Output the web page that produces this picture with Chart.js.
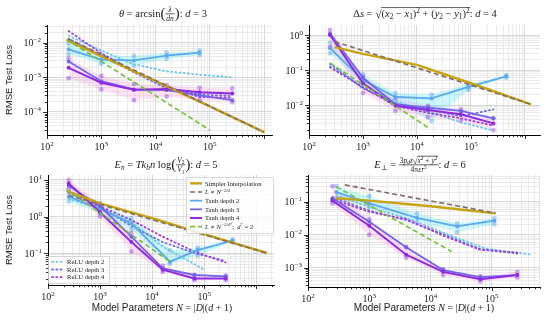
<!DOCTYPE html>
<html>
<head>
<meta charset="utf-8">
<script src="https://cdn.jsdelivr.net/npm/chart.js@4.4.0/dist/chart.umd.min.js"></script>
<style>
  html, body { margin: 0; padding: 0; background: #fff; }
  #wrap { position: relative; width: 550px; height: 321px; overflow: hidden; }
  #wrap canvas { position: absolute; left: 0; top: 0; }
</style>
</head>
<body>
<div id="wrap">
  <canvas id="c1" width="550" height="321"></canvas>
  <canvas id="c2" width="550" height="321"></canvas>
  <canvas id="c3" width="550" height="321"></canvas>
  <canvas id="c4" width="550" height="321"></canvas>
</div>
<script>
// ---- data (N = model parameters, L = RMSE test loss) ----

// panel 1: theta = arcsin(lambda / dn), d = 3
const p1InterpN = [230, 1000, 10000, 100000, 1000000];
const p1InterpL = [1.2e-2, 4.1e-3, 7.8e-4, 1.45e-4, 2.6e-5];
const p1ScaleN = [240, 1000000];
const p1ScaleL = [1.35e-2, 2.6e-5];
const p1StarN = [230, 100000];
const p1StarL = [1.25e-2, 3.0e-5];
const p1NetN = [250, 1000, 4000, 16000, 65000, 260000];
const p1Tanh2N = [250, 1000, 4000, 16000, 65000];
const p1Tanh2 = [6.5e-3, 3.3e-3, 3.1e-3, 4.3e-3, 5.2e-3];
const p1Tanh2Lo = [4.8e-3, 2.5e-3, 2.2e-3, 3.4e-3, 4.4e-3];
const p1Tanh2Hi = [9.5e-3, 4.4e-3, 4.2e-3, 5.2e-3, 6.0e-3];
const p1Tanh3 = [2.9e-3, 7.8e-4, 4.5e-4, 4.3e-4, 3.0e-4, 2.2e-4];
const p1Tanh4 = [1.9e-3, 7.0e-4, 4.4e-4, 4.6e-4, 3.7e-4, 3.4e-4];
const p1Tanh4Lo = [9.5e-4, 4.5e-4, 2.2e-4, 2.8e-4, 2.2e-4, 1.9e-4];
const p1Tanh4Hi = [3.6e-3, 1.1e-3, 6.5e-4, 6.0e-4, 5.0e-4, 4.8e-4];
const p1Relu2 = [1.6e-2, 6.0e-3, 2.4e-3, 1.5e-3, 1.2e-3, 1.0e-3];
const p1Relu3 = [1.3e-2, 4.3e-3, 1.4e-3, 4.8e-4, 3.2e-4, 2.9e-4];
const p1Relu4 = [2.2e-2, 5.0e-3, 1.5e-3, 5.5e-4, 2.7e-4, 2.6e-4];

// panel 2: delta s = sqrt((x2-x1)^2 + (y2-y1)^2), d = 4
const p2InterpN = [300, 1000, 10000, 100000, 1300000];
const p2InterpL = [0.45, 0.29, 0.14, 0.042, 0.0105];
const p2ScaleN = [300, 1300000];
const p2ScaleL = [0.65, 0.0105];
const p2StarN = [245, 16000];
const p2StarL = [0.16, 2.3e-3];
const p2NetN = [245, 1000, 4000, 16000, 65000, 260000];
const p2Tanh2N = [245, 1000, 4000, 18600, 89000, 450000];
const p2Tanh2 = [0.42, 0.052, 0.017, 0.0155, 0.033, 0.066];
const p2Tanh2Lo = [0.3, 0.04, 0.012, 0.0035, 0.027, 0.06];
const p2Tanh2Hi = [0.6, 0.075, 0.022, 0.02, 0.04, 0.07];
const p2Tanh3 = [1.1, 0.06, 0.0105, 0.0085, 0.0068, 0.0042];
const p2Tanh4 = [1.0, 0.042, 0.0095, 0.0072, 0.0055, 0.0030];
const p2Tanh4Lo = [0.45, 0.022, 0.0068, 0.0045, 0.0035, 0.0019];
const p2Tanh4Hi = [1.4, 0.065, 0.016, 0.0095, 0.0075, 0.0042];
const p2Relu2 = [0.13, 0.035, 0.013, 0.0065, 0.0032, 0.0019];
const p2Relu3 = [0.15, 0.03, 0.011, 0.0075, 0.0048, 0.0075];
const p2Relu4 = [0.12, 0.032, 0.0095, 0.006, 0.0042, 0.0026];

// panel 3: E_n = T k_b n log(V2/V1), d = 5
const p3InterpN = [230, 1000, 10000, 100000, 1600000];
const p3InterpL = [5.0, 2.3, 0.9, 0.33, 0.1];
const p3ScaleN = [250, 1600000];
const p3ScaleL = [3.8, 0.1];
const p3StarN = [230, 22000];
const p3StarL = [5.5, 0.058];
const p3NetN = [250, 1000, 4000, 16000, 65000, 260000];
const p3Tanh2N = [250, 1000, 4000, 22000, 75000, 350000];
const p3Tanh2 = [3.5, 1.6, 0.65, 0.058, 0.12, 0.22];
const p3Tanh2Lo = [2.6, 1.2, 0.45, 0.05, 0.085, 0.2];
const p3Tanh2Hi = [4.5, 2.3, 0.9, 0.12, 0.14, 0.24];
const p3Tanh3 = [7.0, 1.9, 0.28, 0.038, 0.025, 0.023];
const p3Tanh4 = [8.0, 1.3, 0.2, 0.035, 0.02, 0.02];
const p3Tanh4Lo = [5.5, 1.0, 0.11, 0.03, 0.018, 0.018];
const p3Tanh4Hi = [10, 2.2, 0.35, 0.045, 0.025, 0.024];
const p3Relu2N = [250, 1000, 4000, 16000, 100000];
const p3Relu2 = [3.0, 1.7, 0.7, 0.15, 0.035];
const p3Relu3 = [4.5, 1.8, 0.55, 0.2, 0.1, 0.06];
const p3Relu4 = [5.0, 1.9, 0.8, 0.28, 0.11, 0.055];

// panel 4: E_perp = 3 p_d z sqrt(x^2+y^2) / (4 pi eps r^5), d = 6
const p4InterpN = [290, 1000, 10000, 115000];
const p4InterpL = [0.13, 0.11, 0.074, 0.045];
const p4ScaleN = [400, 115000];
const p4ScaleL = [0.33, 0.046];
const p4StarN = [290, 22000];
const p4StarL = [0.29, 3.1e-3];
const p4NetN = [250, 1000, 4000, 16000, 65000, 260000];
const p4Tanh2N = [290, 1000, 6000, 27000, 110000];
const p4Tanh2 = [0.2, 0.09, 0.033, 0.018, 0.027];
const p4Tanh2Lo = [0.13, 0.07, 0.025, 0.012, 0.021];
const p4Tanh2Hi = [0.3, 0.15, 0.045, 0.022, 0.032];
const p4Tanh3 = [0.13, 0.025, 0.0042, 8.5e-4, 5.2e-4, 6.0e-4];
const p4Tanh4 = [0.11, 0.019, 0.0025, 7.5e-4, 4.5e-4, 6.0e-4];
const p4Tanh4Lo = [0.09, 0.01, 0.002, 6e-4, 3.8e-4, 5e-4];
const p4Tanh4Hi = [0.3, 0.03, 0.0042, 9e-4, 5.5e-4, 7.5e-4];
const p4Relu2N = [290, 1000, 4500, 20000, 80000, 450000];
const p4Relu2 = [0.16, 0.07, 0.03, 0.01, 0.0038, 0.0025];
const p4Relu3 = [0.14, 0.055, 0.028, 0.0105, 0.0037, 0.0027];
const p4Relu4 = [0.12, 0.05, 0.03, 0.0095, 0.0035, 0.0029];

// labelled decades on the x axes (10^6 is left unlabelled in the figure)
const X_TICK_LABELS = [1e2, 1e3, 1e4, 1e5];

// ---- styles ----
const SERIF = '"Liberation Serif", "DejaVu Serif", serif';
const SANS = '"Liberation Sans", "DejaVu Sans", sans-serif';

const STYLE = {
  interp: { borderColor: '#c9a30c', borderWidth: 2.4 },
  scale: { borderColor: '#86706f', borderWidth: 1.7, borderDash: [5, 3] },
  star: { borderColor: '#78c23c', borderWidth: 1.7, borderDash: [5, 3] },
  tanh2: { borderColor: '#5ba9ee', borderWidth: 1.8, pointRadius: 2, pointBackgroundColor: '#5ba9ee', pointBorderWidth: 0 },
  tanh3: { borderColor: '#7165ec', borderWidth: 1.8, pointRadius: 2, pointBackgroundColor: '#7165ec', pointBorderWidth: 0 },
  tanh4: { borderColor: '#8f2ae0', borderWidth: 2, pointRadius: 2, pointBackgroundColor: '#8f2ae0', pointBorderWidth: 0 },
  relu2: { borderColor: '#6cc6ee', borderWidth: 1.8, borderDash: [1.2, 3], borderCapStyle: 'round' },
  relu3: { borderColor: '#6a70e6', borderWidth: 1.8, borderDash: [1.2, 3], borderCapStyle: 'round' },
  relu4: { borderColor: '#a23ee0', borderWidth: 1.8, borderDash: [1.2, 3], borderCapStyle: 'round' },
  band2: { borderColor: 'rgba(0,0,0,0)', borderWidth: 1, pointRadius: 2.4, pointBackgroundColor: 'rgba(91,169,238,0.5)', pointBorderWidth: 0, backgroundColor: 'rgba(40,225,245,0.24)' },
  band4: { borderColor: 'rgba(0,0,0,0)', borderWidth: 1, pointRadius: 2.4, pointBackgroundColor: 'rgba(143,42,224,0.42)', pointBorderWidth: 0, backgroundColor: 'rgba(255,120,225,0.2)' }
};

const LEGEND_TEXT = {
  interp: [['r', 'Simpler Interpolation']],
  scale: [['i', 'L'], ['r', ' ∝ '], ['i', 'N'], ['supi', '−2/d']],
  tanh2: [['r', 'Tanh depth 2']],
  tanh3: [['r', 'Tanh depth 3']],
  tanh4: [['r', 'Tanh depth 4']],
  star: [['i', 'L'], ['r', ' ∝ '], ['i', 'N'], ['supi', '−2/d*'], ['r', ';  '], ['i', 'd'], ['sup', '*'], ['r', ' = 2']],
  relu2: [['r', 'ReLU depth 2']],
  relu3: [['r', 'ReLU depth 3']],
  relu4: [['r', 'ReLU depth 4']]
};

const TITLES = {
  c1: [['i', 'θ'], ['r', ' = arcsin'], ['big', '('], ['frac', [['i', 'λ']], [['i', 'dn']]], ['big', ')'], ['r', ': '], ['i', 'd'], ['r', ' = 3']],
  c2: [['r', 'Δ'], ['i', 's'], ['r', ' = '], ['sqrt', [['r', '('], ['i', 'x'], ['sub', '2'], ['r', ' − '], ['i', 'x'], ['sub', '1'], ['r', ')'], ['sup', '2'], ['r', ' + ('], ['i', 'y'], ['sub', '2'], ['r', ' − '], ['i', 'y'], ['sub', '1'], ['r', ')'], ['sup', '2']]], ['r', ': '], ['i', 'd'], ['r', ' = 4']],
  c3: [['i', 'E'], ['subi', 'n'], ['r', ' = '], ['i', 'Tk'], ['subi', 'b'], ['i', 'n'], ['r', ' log'], ['big', '('], ['frac', [['i', 'V'], ['sub', '2']], [['i', 'V'], ['sub', '1']]], ['big', ')'], ['r', ': '], ['i', 'd'], ['r', ' = 5']],
  c4: [['i', 'E'], ['sub', '⊥'], ['r', ' = '], ['frac', [['r', '3'], ['i', 'p'], ['subi', 'd'], ['i', 'z'], ['sqrt', [['i', 'x'], ['sup', '2'], ['r', ' + '], ['i', 'y'], ['sup', '2']]]], [['r', '4π'], ['i', 'εr'], ['sup', '5']]], ['r', ': '], ['i', 'd'], ['r', ' = 6']]
};

const X_TITLE = [['sans', 'Model Parameters '], ['i', 'N'], ['r', ' = |'], ['i', 'D'], ['r', '|('], ['i', 'd'], ['r', ' + 1)']];
const Y_TITLE = 'RMSE Test Loss';

// ---- rich text (mathtext-ish) ----
function fontFor(kind, size) {
  if (kind === 'i' || kind === 'supi' || kind === 'subi') return 'italic ' + size + 'px ' + SERIF;
  if (kind === 'sans') return size + 'px ' + SANS;
  return size + 'px ' + SERIF;
}

function rich(ctx, parts, x, y, size, draw) {
  let cx = x;
  for (const p of parts) {
    const kind = p[0];
    if (kind === 'frac') {
      const s = size * 0.72;
      const wn = rich(ctx, p[1], 0, 0, s, false);
      const wd = rich(ctx, p[2], 0, 0, s, false);
      const w = Math.max(wn, wd) + 2;
      if (draw) {
        rich(ctx, p[1], cx + (w - wn) / 2, y - size * 0.5, s, true);
        rich(ctx, p[2], cx + (w - wd) / 2, y + size * 0.42, s, true);
        ctx.fillRect(cx, y - size * 0.33, w, 0.7);
      }
      cx += w;
    } else if (kind === 'sqrt') {
      const wi = rich(ctx, p[1], 0, 0, size, false);
      ctx.font = fontFor('r', size * 1.1);
      const ws = ctx.measureText('√').width;
      if (draw) {
        ctx.fillText('√', cx, y + size * 0.1);
        rich(ctx, p[1], cx + ws, y, size, true);
        ctx.fillRect(cx + ws - 0.5, y - size * 0.92, wi + 1, 0.7);
      }
      cx += ws + wi;
    } else {
      let s = size, dy = 0;
      if (kind === 'sub' || kind === 'subi') { s = size * 0.7; dy = size * 0.22; }
      if (kind === 'sup' || kind === 'supi') { s = size * 0.7; dy = -size * 0.4; }
      if (kind === 'big') { s = size * 1.4; dy = size * 0.12; }
      ctx.font = fontFor(kind, s);
      const w = ctx.measureText(p[1]).width;
      if (draw) ctx.fillText(p[1], cx, y + dy);
      cx += w;
    }
  }
  return cx - x;
}

function drawRich(ctx, parts, cx, y, size, align) {
  const w = rich(ctx, parts, 0, 0, size, false);
  const x = align === 'center' ? cx - w / 2 : align === 'right' ? cx - w : cx;
  rich(ctx, parts, x, y, size, true);
}

// ---- axis helpers ----
function isDecade(v) {
  if (!v) return false;
  const l = Math.log10(v);
  return Math.abs(l - Math.round(l)) < 1e-6;
}

function logTicks(min, max) {
  const out = [];
  for (let e = Math.floor(Math.log10(min)); e <= Math.ceil(Math.log10(max)); e++) {
    for (let m = 1; m < 10; m++) {
      const v = m * Math.pow(10, e);
      if (v >= min * 0.9999 && v <= max * 1.0001) out.push({ value: v, major: m === 1 });
    }
  }
  return out;
}

function expLabel(v) {
  const e = Math.round(Math.log10(v));
  return [['r', '10'], ['sup', (e < 0 ? '−' : '') + Math.abs(e)]];
}

function axisOpts(min, max) {
  return {
    type: 'logarithmic', min: min, max: max, offset: false,
    ticks: { display: false },
    grid: {
      color: (c) => isDecade(c.tick && c.tick.value) ? '#c6c6c6' : '#e2e2e2',
      lineWidth: 0.7,
      drawTicks: false
    },
    border: { display: true, color: '#000', width: 1 },
    afterBuildTicks: (s) => { s.ticks = logTicks(s.min, s.max); },
    afterFit: (s) => {
      if (s.isHorizontal()) s.height = 0; else s.width = 0;
      s.paddingLeft = s.paddingRight = s.paddingTop = s.paddingBottom = 0;
    }
  };
}

// ---- per panel decoration (ticks, labels, titles, legends) ----
const DECOR = {
  c1: { title: [163, 17], yTitle: [9, 80] },
  c2: { title: [425, 17] },
  c3: { title: [166, 168], yTitle: [9, 230], xTitle: [162, 311],
        legends: [
          { box: [186, 177, 87, 56], keys: ['interp', 'scale', 'tanh2', 'tanh3', 'tanh4', 'star'] },
          { box: [48, 256, 61, 27], keys: ['relu2', 'relu3', 'relu4'] }
        ] },
  c4: { title: [420, 168], xTitle: [424, 311] }
};

const decor = {
  id: 'decor',
  afterDraw(chart) {
    const cfg = DECOR[chart.canvas.id];
    const ctx = chart.ctx;
    const xs = chart.scales.x, ys = chart.scales.y;
    const a = chart.chartArea;
    ctx.save();
    ctx.fillStyle = '#000';
    ctx.strokeStyle = '#000';
    ctx.lineWidth = 0.8;
    ctx.textBaseline = 'alphabetic';
    ctx.beginPath();
    for (const t of xs.ticks) {
      const px = Math.round(xs.getPixelForValue(t.value)) + 0.5;
      const len = isDecade(t.value) ? 4 : 2.2;
      ctx.moveTo(px, a.bottom); ctx.lineTo(px, a.bottom + len);
    }
    for (const t of ys.ticks) {
      const py = Math.round(ys.getPixelForValue(t.value)) + 0.5;
      const len = isDecade(t.value) ? 4 : 2.2;
      ctx.moveTo(a.left, py); ctx.lineTo(a.left - len, py);
    }
    ctx.stroke();
    ctx.fillStyle = '#222';
    for (const v of X_TICK_LABELS) {
      if (v < xs.min || v > xs.max) continue;
      drawRich(ctx, expLabel(v), xs.getPixelForValue(v), a.bottom + 15, 10, 'center');
    }
    for (const t of ys.ticks) {
      if (!isDecade(t.value)) continue;
      drawRich(ctx, expLabel(t.value), a.left - 6, ys.getPixelForValue(t.value) + 3.5, 10, 'right');
    }
    drawRich(ctx, TITLES[chart.canvas.id], cfg.title[0], cfg.title[1], 10.5, 'center');
    if (cfg.xTitle) drawRich(ctx, X_TITLE, cfg.xTitle[0], cfg.xTitle[1], 10, 'center');
    if (cfg.yTitle) {
      ctx.save();
      ctx.translate(cfg.yTitle[0], cfg.yTitle[1]);
      ctx.rotate(-Math.PI / 2);
      ctx.font = '9.5px ' + SANS;
      ctx.textAlign = 'center';
      ctx.fillText(Y_TITLE, 0, 3);
      ctx.restore();
    }
    for (const lg of (cfg.legends || [])) {
      const [bx, by, bw, bh] = lg.box;
      ctx.fillStyle = 'rgba(255,255,255,0.85)';
      ctx.strokeStyle = '#cfcfcf';
      ctx.lineWidth = 0.8;
      ctx.beginPath();
      ctx.rect(bx + 0.5, by + 0.5, bw, bh);
      ctx.fill(); ctx.stroke();
      const rowH = (bh - 4) / lg.keys.length;
      lg.keys.forEach((k, i) => {
        const st = STYLE[k];
        const y = by + 2 + rowH * (i + 0.5);
        ctx.strokeStyle = st.borderColor;
        ctx.lineWidth = st.borderWidth;
        ctx.setLineDash(st.borderDash || []);
        ctx.lineCap = st.borderCapStyle || 'butt';
        ctx.beginPath();
        ctx.moveTo(bx + 4, y); ctx.lineTo(bx + 16, y);
        ctx.stroke();
        ctx.setLineDash([]);
        ctx.fillStyle = '#222';
        drawRich(ctx, LEGEND_TEXT[k], bx + 19, y + 2.3, 6.6, 'left');
      });
    }
    ctx.restore();
  }
};

// ---- datasets ----
function series(key, xs, ys, style, extra) {
  return Object.assign({
    key: key,
    data: xs.map((x, i) => ({ x: x, y: ys[i] })),
    pointRadius: 0, fill: false, tension: 0
  }, style, extra || {});
}

function panelDatasets(s) {
  return [
    series('scale', s.scaleN, s.scaleL, STYLE.scale),
    series('star', s.starN, s.starL, STYLE.star),
    series('interp', s.interpN, s.interpL, STYLE.interp),
    series('tanh4', s.netN, s.tanh4, STYLE.tanh4),
    series('tanh3', s.netN, s.tanh3, STYLE.tanh3),
    series('tanh2', s.tanh2N, s.tanh2, STYLE.tanh2),
    series('relu4', s.netN, s.relu4, STYLE.relu4),
    series('relu3', s.netN, s.relu3, STYLE.relu3),
    series('relu2', s.relu2N || s.netN, s.relu2, STYLE.relu2),
    series('t4lo', s.netN, s.tanh4Lo, STYLE.band4),
    series('t4hi', s.netN, s.tanh4Hi, STYLE.band4, { fill: '-1' }),
    series('t2lo', s.tanh2N, s.tanh2Lo, STYLE.band2),
    series('t2hi', s.tanh2N, s.tanh2Hi, STYLE.band2, { fill: '-1' })
  ];
}

const PANELS = [
  { id: 'c1', area: [47, 25, 272, 135], x: [100, 1.4e6], y: [2.15e-5, 3.3e-2],
    sets: { interpN: p1InterpN, interpL: p1InterpL, scaleN: p1ScaleN, scaleL: p1ScaleL, starN: p1StarN, starL: p1StarL,
            netN: p1NetN, tanh2N: p1Tanh2N, tanh2: p1Tanh2, tanh2Lo: p1Tanh2Lo, tanh2Hi: p1Tanh2Hi,
            tanh3: p1Tanh3, tanh4: p1Tanh4, tanh4Lo: p1Tanh4Lo, tanh4Hi: p1Tanh4Hi,
            relu2: p1Relu2, relu3: p1Relu3, relu4: p1Relu4 } },
  { id: 'c2', area: [309, 25, 540, 135], x: [100, 1.9e6], y: [1.4e-3, 1.93],
    sets: { interpN: p2InterpN, interpL: p2InterpL, scaleN: p2ScaleN, scaleL: p2ScaleL, starN: p2StarN, starL: p2StarL,
            netN: p2NetN, tanh2N: p2Tanh2N, tanh2: p2Tanh2, tanh2Lo: p2Tanh2Lo, tanh2Hi: p2Tanh2Hi,
            tanh3: p2Tanh3, tanh4: p2Tanh4, tanh4Lo: p2Tanh4Lo, tanh4Hi: p2Tanh4Hi,
            relu2: p2Relu2, relu3: p2Relu3, relu4: p2Relu4 } },
  { id: 'c3', area: [48, 175, 274, 285], x: [100, 2.2e6], y: [0.0133, 13.7],
    sets: { interpN: p3InterpN, interpL: p3InterpL, scaleN: p3ScaleN, scaleL: p3ScaleL, starN: p3StarN, starL: p3StarL,
            netN: p3NetN, tanh2N: p3Tanh2N, tanh2: p3Tanh2, tanh2Lo: p3Tanh2Lo, tanh2Hi: p3Tanh2Hi,
            tanh3: p3Tanh3, tanh4: p3Tanh4, tanh4Lo: p3Tanh4Lo, tanh4Hi: p3Tanh4Hi,
            relu2N: p3Relu2N, relu2: p3Relu2, relu3: p3Relu3, relu4: p3Relu4 } },
  { id: 'c4', area: [308, 175, 540, 287], x: [100, 6.1e5], y: [2.6e-4, 0.66],
    sets: { interpN: p4InterpN, interpL: p4InterpL, scaleN: p4ScaleN, scaleL: p4ScaleL, starN: p4StarN, starL: p4StarL,
            netN: p4NetN, tanh2N: p4Tanh2N, tanh2: p4Tanh2, tanh2Lo: p4Tanh2Lo, tanh2Hi: p4Tanh2Hi,
            tanh3: p4Tanh3, tanh4: p4Tanh4, tanh4Lo: p4Tanh4Lo, tanh4Hi: p4Tanh4Hi,
            relu2N: p4Relu2N, relu2: p4Relu2, relu3: p4Relu3, relu4: p4Relu4 } }
];

PANELS.forEach((p) => {
  const [L, T, R, B] = p.area;
  new Chart(document.getElementById(p.id), {
    type: 'line',
    data: { datasets: panelDatasets(p.sets) },
    options: {
      responsive: false,
      animation: false,
      devicePixelRatio: 1,
      events: [],
      layout: { padding: { left: L, top: T, right: 550 - R, bottom: 321 - B } },
      plugins: { legend: { display: false }, tooltip: { enabled: false } },
      scales: { x: axisOpts(p.x[0], p.x[1]), y: axisOpts(p.y[0], p.y[1]) }
    },
    plugins: [decor]
  });
});
</script>
</body>
</html>
